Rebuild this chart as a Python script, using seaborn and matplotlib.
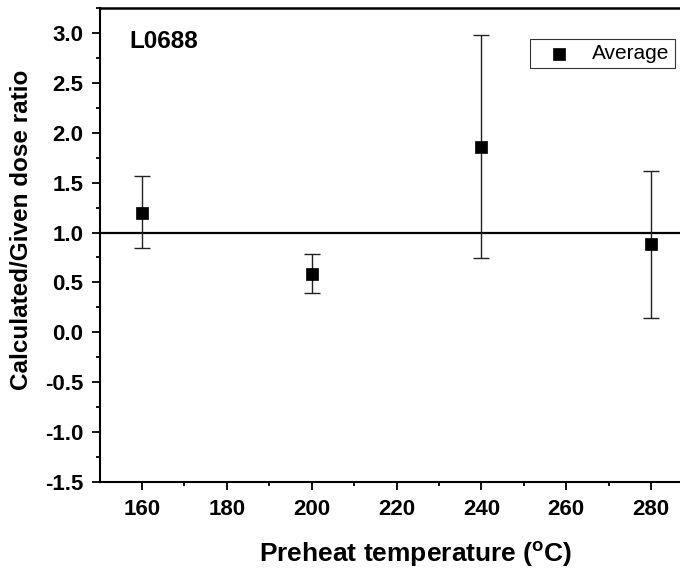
import matplotlib
matplotlib.use("Agg")
import matplotlib.pyplot as plt
import seaborn as sns
import pandas as pd
from matplotlib.ticker import MultipleLocator

temps = [160, 200, 240, 280]
ratio = [1.20, 0.585, 1.86, 0.885]
err_hi = [1.57, 0.78, 2.98, 1.62]
err_lo = [0.84, 0.39, 0.74, 0.14]
yticks = [-1.5, -1.0, -0.5, 0.0, 0.5, 1.0, 1.5, 2.0, 2.5, 3.0]

sns.set_style("ticks")
plt.rcParams['font.family'] = ['Liberation Sans', 'DejaVu Sans']
plt.rcParams['font.weight'] = 'bold'
plt.rcParams['mathtext.fontset'] = 'custom'
plt.rcParams['mathtext.rm'] = 'Liberation Sans:bold'
plt.rcParams['mathtext.default'] = 'rm'
for key in ['text.color', 'axes.labelcolor', 'xtick.color', 'ytick.color', 'axes.edgecolor']:
    plt.rcParams[key] = 'black'

df = pd.DataFrame({"temp": temps, "ratio": ratio})

W, H = 680, 569
fig = plt.figure(figsize=(6.8, 5.69), dpi=100)
ax = fig.add_axes([100 / W, 1 - 482 / H, 580 / W, 474 / H])

yerr = [[r - lo for r, lo in zip(ratio, err_lo)], [hi - r for r, hi in zip(ratio, err_hi)]]
ax.errorbar(temps, ratio, yerr=yerr, fmt='none', ecolor='#222222', elinewidth=1.0,
            capsize=6, capthick=1.0, zorder=2)
ax.axhline(1.0, color='black', lw=1.6, zorder=1)
sns.scatterplot(data=df, x="temp", y="ratio", marker='s', s=64, color='black',
                edgecolor='black', linewidth=0.5, ax=ax, zorder=3, label='Average')

ax.set_xlim(150.1, 286.8)
ax.set_ylim(-1.5, 3.25)
ax.xaxis.set_major_locator(MultipleLocator(20))
ax.xaxis.set_minor_locator(MultipleLocator(10))
ax.yaxis.set_minor_locator(MultipleLocator(0.25))
ax.set_yticks(yticks)
ax.set_yticklabels([f"{v:.1f}" for v in yticks])
ax.tick_params(axis='both', which='major', direction='out', length=6, width=1.3,
               labelsize=16, colors='black')
ax.tick_params(axis='x', which='major', pad=6)
ax.tick_params(axis='y', which='major', pad=6)
ax.tick_params(axis='both', which='minor', direction='out', length=3, width=1.3, colors='black')
for lab in ax.get_xticklabels() + ax.get_yticklabels():
    lab.set_fontweight('bold')

for side in ['left', 'bottom']:
    ax.spines[side].set_linewidth(1.5)
    ax.spines[side].set_color('black')
ax.spines['top'].set_linewidth(1.8)
ax.spines['top'].set_color('black')
ax.spines['right'].set_visible(False)

ax.set_xlabel("")
ax.set_ylabel("")
fig.text(416 / W, 1 - 562 / H, "Preheat temperature ($^{o}$C)", fontsize=19,
         fontweight='bold', ha='center', va='baseline', color='black')
fig.text(22 / W, 1 - 230 / H, "Calculated/Given dose ratio", fontsize=17.5,
         fontweight='bold', ha='center', va='center', rotation=90, color='black')

ax.text(0.05, 0.930, "L0688", transform=ax.transAxes, fontsize=17.5, fontweight='bold',
        va='center', ha='left', color='black')

leg = ax.legend(loc='upper left', bbox_to_anchor=(530 / W, 1 - 39 / H),
                bbox_transform=fig.transFigure, frameon=True, borderaxespad=0,
                fancybox=False, edgecolor='black', fontsize=15, handletextpad=0.44,
                handlelength=2.29, borderpad=0.25, markerscale=1.0)
leg.get_frame().set_linewidth(0.8)
for t in leg.get_texts():
    t.set_fontweight('normal')
    t.set_color('black')

fig.savefig("out.png", dpi=100)
